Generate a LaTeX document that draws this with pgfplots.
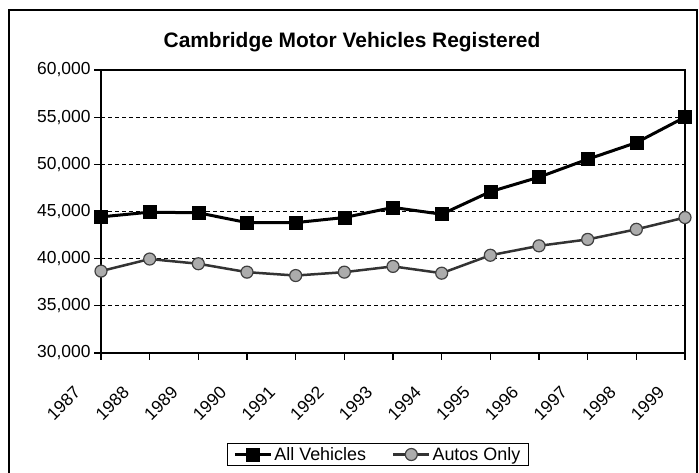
\documentclass[border=0pt]{standalone}
\usepackage{fontspec}
\setmainfont{Liberation Sans}
\usepackage{pgfplots}
\pgfplotsset{compat=1.18}
\begin{document}
\begin{tikzpicture}[x=1bp,y=1bp]
\useasboundingbox (0,0) rectangle (699,473);
\fill[white] (0,0) rectangle (699,473);
\draw[line width=2bp] (9,-5) rectangle (697,463);
\node[font=\bfseries\fontsize{21}{24}\selectfont] at (352,431) {Cambridge Motor Vehicles Registered};
\begin{axis}[at={(101bp,120bp)}, anchor=south west, scale only axis,
  width=584bp, height=283bp,
  xmin=0, xmax=12, ymin=30000, ymax=60000,
  xtick={0,1,...,12},
  xticklabels={1987,1988,1989,1990,1991,1992,1993,1994,1995,1996,1997,1998,1999},
  ytick={30000,35000,40000,45000,50000,55000,60000},
  scaled y ticks=false,
  yticklabel style={/pgf/number format/.cd, 1000 sep={,}, assume math mode=true},
  ticklabel style={font=\fontsize{17.5}{20}\selectfont},
  xticklabel style={rotate=45, anchor=east, xshift=-34bp, yshift=-4bp},
  tick align=outside, xtick pos=bottom, ytick pos=left,
  major tick length=7bp,
  tick style={black, line width=1.3bp},
  axis line style={line width=1.8bp},
  ymajorgrids,
  major grid style={black, line width=1.3bp, dash pattern=on 4bp off 3bp},
  legend style={at={(0.474,-0.3587)}, anchor=center, legend columns=2,
    draw=black, line width=1.2bp, font=\fontsize{18}{20}\selectfont,
    inner xsep=6bp, inner ysep=2bp,
    /tikz/every even column/.append style={column sep=24bp}},
  legend image code/.code={\draw[mark repeat=2,mark phase=2] plot coordinates {(0bp,0bp) (18bp,0bp) (36bp,0bp)};},
  legend cell align=left,
  clip=false,
]
\addplot[black, line width=3bp, mark=square*, mark size=6.5bp, mark options={solid, line width=0.5bp}]
coordinates {(0,44430) (1,44930) (2,44860) (3,43820) (4,43820) (5,44360) (6,45430) (7,44710) (8,47100) (9,48640) (10,50540) (11,52300) (12,55000)};
\addlegendentry{All Vehicles}
\addplot[black!80, line width=2.5bp, mark=*, mark size=6bp, mark options={solid, fill=gray!65, draw=black!75, line width=1.2bp}]
coordinates {(0,38680) (1,39960) (2,39460) (3,38570) (4,38210) (5,38570) (6,39180) (7,38460) (8,40360) (9,41360) (10,42040) (11,43110) (12,44360)};
\addlegendentry{Autos Only}
\end{axis}
\end{tikzpicture}
\end{document}
